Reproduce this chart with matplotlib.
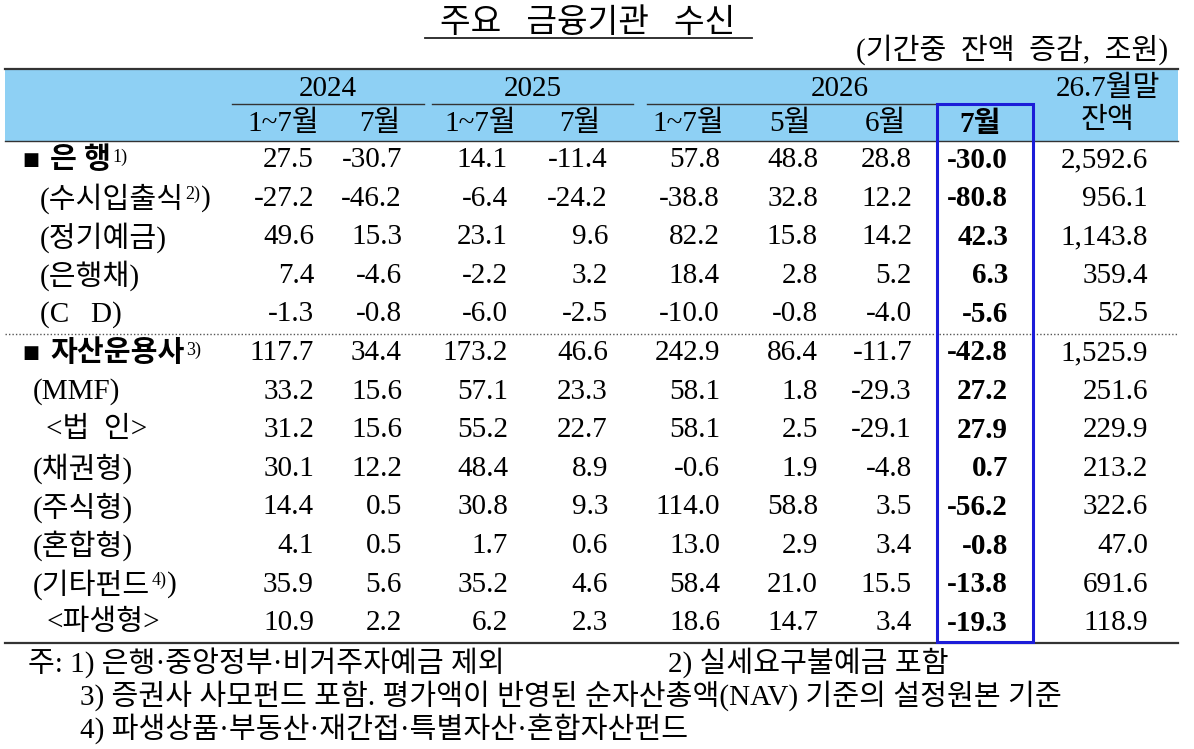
import matplotlib
matplotlib.use('Agg')
import matplotlib.pyplot as plt
from matplotlib.patches import Rectangle

plt.rcParams['font.family'] = ['Liberation Serif', 'Noto Sans CJK KR']

# --- data ---
row_labels = ['은 행', '(수시입출식', '(정기예금)', '(은행채)', '(C   D)',
              '자산운용사', '(MMF)', '<법  인>', '(채권형)', '(주식형)',
              '(혼합형)', '(기타펀드', '<파생형>']
row_notes = ['1)', '2)', None, None, None, '3)', None, None, None, None, None, '4)', None]
v24_ytd = [27.5, -27.2, 49.6, 7.4, -1.3, 117.7, 33.2, 31.2, 30.1, 14.4, 4.1, 35.9, 10.9]
v24_jul = [-30.7, -46.2, 15.3, -4.6, -0.8, 34.4, 15.6, 15.6, 12.2, 0.5, 0.5, 5.6, 2.2]
v25_ytd = [14.1, -6.4, 23.1, -2.2, -6.0, 173.2, 57.1, 55.2, 48.4, 30.8, 1.7, 35.2, 6.2]
v25_jul = [-11.4, -24.2, 9.6, 3.2, -2.5, 46.6, 23.3, 22.7, 8.9, 9.3, 0.6, 4.6, 2.3]
v26_ytd = [57.8, -38.8, 82.2, 18.4, -10.0, 242.9, 58.1, 58.1, -0.6, 114.0, 13.0, 58.4, 18.6]
v26_may = [48.8, 32.8, 15.8, 2.8, -0.8, 86.4, 1.8, 2.5, 1.9, 58.8, 2.9, 21.0, 14.7]
v26_jun = [28.8, 12.2, 14.2, 5.2, -4.0, -11.7, -29.3, -29.1, -4.8, 3.5, 3.4, 15.5, 3.4]
v26_jul = [-30.0, -80.8, 42.3, 6.3, -5.6, -42.8, 27.2, 27.9, 0.7, -56.2, -0.8, -13.8, -19.3]
balance = [2592.6, 956.1, 1143.8, 359.4, 52.5, 1525.9, 251.6, 229.9, 213.2, 322.6, 47.0, 691.6, 118.9]

years = ['2024', '2025', '2026']
sub_headers = ['1~7월', '7월', '1~7월', '7월', '1~7월', '5월', '6월', '7월']
title = '주요   금융기관   수신'
unit = '(기간중  잔액  증감,  조원)'
notes = ['주: 1) 은행·중앙정부·비거주자예금 제외',
         '2) 실세요구불예금 포함',
         '3) 증권사 사모펀드 포함. 평가액이 반영된 순자산총액(NAV) 기준의 설정원본 기준',
         '4) 파생상품·부동산·재간접·특별자산·혼합자산펀드']

columns = [v24_ytd, v24_jul, v25_ytd, v25_jul, v26_ytd, v26_may, v26_jun, v26_jul, balance]

# --- layout (pixels) ---
fig = plt.figure(figsize=(11.94, 7.49), dpi=100)
ax = fig.add_axes([0, 0, 1, 1])
ax.set_xlim(0, 1194)
ax.set_ylim(749, 0)
ax.axis('off')

fs = 21
col_right = [314, 402, 508, 608, 720, 818, 912, 1008, 1148]
sub_centers = [283, 380, 480, 580, 688, 790, 885, 980]
year_spans = [(232, 424), (432, 633), (647, 1033)]
row_y0, row_step = 160, 38.6
left, right = 5, 1178

# title + unit
ax.text(588, 32, title, ha='center', va='baseline', fontsize=24)
ax.plot([425, 752], [38, 38], color='#222222', lw=1.3)
ax.text(1168, 50, unit, ha='right', va='center', fontsize=21)

# header band
ax.add_patch(Rectangle((left, 69), right - left, 72, facecolor='#8ED0F4', edgecolor='none', zorder=0))
ax.plot([left, right], [69, 69], color='#333333', lw=1.6)
ax.plot([left, right], [141, 141], color='#333333', lw=1.0)
for yr, (x0, x1) in zip(years, year_spans):
    cx = (x0 + x1) / 2 if yr != '2026' else 840
    ax.text(cx, 89, yr, ha='center', va='center', fontsize=fs)
    ax.plot([x0, x1], [104, 104], color='#333333', lw=1.0)
for i, (lab, cx) in enumerate(zip(sub_headers, sub_centers)):
    ax.text(cx, 124, lab, ha='center', va='center', fontsize=fs,
            fontweight='bold' if i == 7 else 'normal')
ax.text(1108, 89, '26.7월말', ha='center', va='center', fontsize=fs)
ax.text(1108, 121, '잔액', ha='center', va='center', fontsize=fs)

# rows
for r, lab in enumerate(row_labels):
    y = row_y0 + r * row_step
    bold = r in (0, 5)
    if bold:
        ax.text(22, y, '■', ha='left', va='center', fontsize=13, family='DejaVu Sans')
        x_lab = 50
    elif lab.startswith('<'):
        x_lab = 46
    elif r < 5:
        x_lab = 40
    else:
        x_lab = 33
    txt = ax.text(x_lab, y, lab, ha='left', va='center', fontsize=fs,
                  fontweight='bold' if bold else 'normal')
    if row_notes[r]:
        sup = ax.annotate(row_notes[r], xy=(1, 0.92), xycoords=txt, xytext=(1, 0),
                          textcoords='offset points', ha='left', va='top', fontsize=13)
        if lab.startswith('('):
            ax.annotate(')', xy=(1, 0.5), xycoords=(sup, txt), ha='left', va='center',
                        fontsize=fs)
    for c, vals in enumerate(columns):
        s = f'{vals[r]:,.1f}'
        ax.text(col_right[c], y, s, ha='right', va='center', fontsize=fs,
                fontweight='bold' if c == 7 else 'normal')

# separators
ax.plot([left, right], [334, 334], color='#555555', lw=1.0, ls=(0, (1, 1.5)))
ax.plot([left, right], [643, 643], color='#333333', lw=1.6)

# highlight box for latest month
ax.add_patch(Rectangle((937, 104), 96, 538, facecolor='none', edgecolor='#1c1cd8', lw=2.2, zorder=5))

# notes
ax.text(28, 663, notes[0], ha='left', va='center', fontsize=21)
ax.text(668, 663, notes[1], ha='left', va='center', fontsize=21)
ax.text(80, 696, notes[2], ha='left', va='center', fontsize=21)
ax.text(80, 729, notes[3], ha='left', va='center', fontsize=21)

fig.savefig('out.png', dpi=100)
